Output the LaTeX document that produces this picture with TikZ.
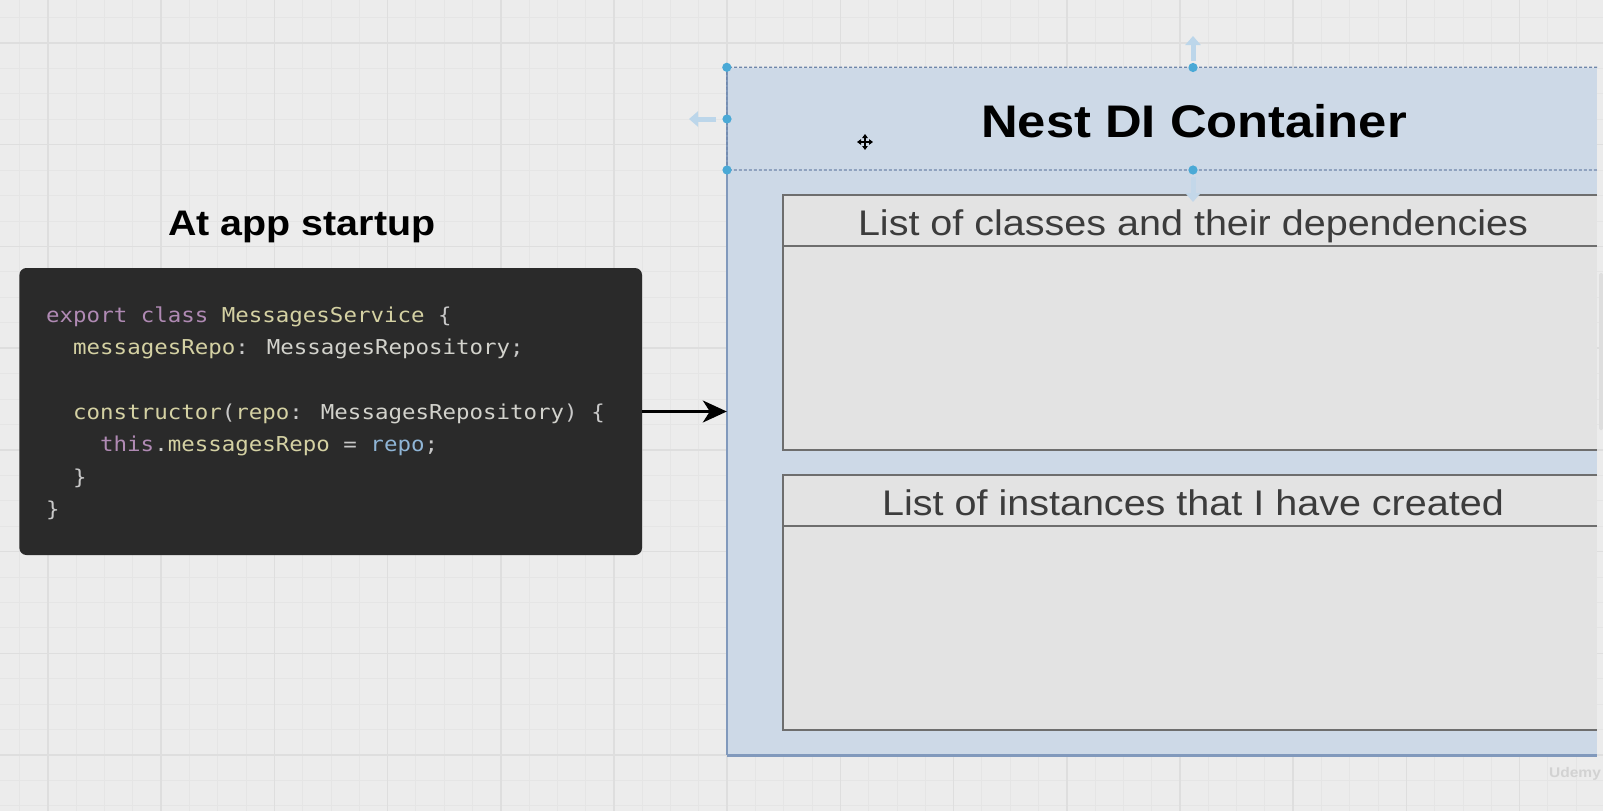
\documentclass[tikz,border=0pt]{standalone}
\usepackage{fontspec}
\setmainfont{Liberation Sans}
\newfontfamily\sansfont[FakeStretch=1.11]{Liberation Sans}
\newfontfamily\codefont[FakeStretch=1.095]{DejaVu Sans Mono}
\usetikzlibrary{arrows.meta}
\definecolor{bg}{HTML}{ECECEC}
\definecolor{gridminor}{HTML}{E5E5E5}
\definecolor{gridmajor}{HTML}{DEDEDE}
\definecolor{contblue}{HTML}{CDD9E7}
\definecolor{contline}{HTML}{8199BC}
\definecolor{selline}{HTML}{6F86AA}
\definecolor{handle}{HTML}{4AA9D6}
\definecolor{ghost}{HTML}{BCD6EA}
\definecolor{boxgray}{HTML}{E3E3E3}
\definecolor{boxline}{HTML}{6E6E6E}
\definecolor{headtext}{HTML}{3C3C3C}
\definecolor{codebg}{HTML}{2A2A2A}
\definecolor{ckw}{HTML}{B08AB4}
\definecolor{cid}{HTML}{D4D1A3}
\definecolor{cty}{HTML}{D2D2CC}
\definecolor{cpu}{HTML}{C8C8C8}
\definecolor{cbl}{HTML}{8FB5D6}
\definecolor{wm}{HTML}{D2D2D2}
\newcommand{\kw}[1]{\textcolor{ckw}{#1}}
\newcommand{\idn}[1]{\textcolor{cid}{#1}}
\newcommand{\typ}[1]{\textcolor{cty}{#1}}
\newcommand{\pun}[1]{\textcolor{cpu}{#1}}
\newcommand{\blu}[1]{\textcolor{cbl}{#1}}
\tikzset{
  minorgrid/.style={draw=gridminor, line width=1pt},
  majorgrid/.style={draw=gridmajor, line width=1.5pt},
  codebox/.style={fill=codebg, rounded corners=7pt, minimum width=622.6pt, minimum height=287pt, inner sep=0pt},
  codeline/.style={anchor=base west, inner sep=0pt, font=\codefont\fontsize{20.5}{24}\selectfont},
  contbox/.style={fill=contblue, minimum width=870pt, minimum height=687.5pt, inner sep=0pt},
  contborder/.style={draw=contline, line width=1.6pt},
  contbottom/.style={draw=contline, line width=3pt},
  selection/.style={draw=selline, line width=1.2pt, dash pattern=on 3pt off 2pt},
  handledot/.style={fill=handle},
  ghostarrow/.style={draw=ghost, line width=5pt, -{Triangle[length=9pt,width=15pt]}},
  listbox/.style={fill=boxgray, minimum width=814pt, minimum height=255pt, inner sep=0pt},
  listline/.style={draw=boxline, line width=2.5pt},
  listhead/.style={anchor=base, inner sep=0pt, text=headtext, font=\sansfont\fontsize{35.6}{40}\selectfont},
  titletext/.style={anchor=base, inner sep=0pt, text=black, font=\sansfont\bfseries\fontsize{35.5}{40}\selectfont},
  bigtitle/.style={anchor=base, inner sep=0pt, text=black, font=\sansfont\bfseries\fontsize{45.7}{50}\selectfont},
  connector/.style={draw=black, line width=2.2pt, -{Stealth[length=24pt,width=22pt,inset=7pt]}},
  cursorarrow/.style={draw=black, line width=1.4pt, {Triangle[length=4pt,width=5.5pt]}-{Triangle[length=4pt,width=5.5pt]}}
}
\begin{document}
\begin{tikzpicture}[x=1pt,y=-1pt]
\useasboundingbox (0,0) rectangle (1603,811);
\fill[bg] (0,0) rectangle (1603,811);
% grid
\foreach \k in {-1,...,54} \draw[minorgrid] ({48+\k*28.3},0) -- ({48+\k*28.3},811);
\foreach \k in {-1,...,30} \draw[minorgrid] (0,{43+\k*25.43}) -- (1603,{43+\k*25.43});
\foreach \j in {0,...,13} \draw[majorgrid] ({48+\j*113.2},0) -- ({48+\j*113.2},811);
\foreach \j in {0,...,7} \draw[majorgrid] (0,{43+\j*101.72}) -- (1603,{43+\j*101.72});
% scrollbar strip at right edge
\fill[gridmajor, rounded corners=1.5pt] (1599,273) rectangle (1603,430);

% left side
\node[titletext] (startup) at (302,235) {At app startup};
\node[codebox] (code) at (330.7,411.5) {};
\node[codeline] (l1) at (46,322) {\kw{export} \kw{class} \idn{MessagesService} \pun{\{}};
\node[codeline] (l2) at (73,354.5) {\idn{messagesRepo}\pun{:} \typ{MessagesRepository}\pun{;}};
\node[codeline] (l4) at (73,419) {\idn{constructor}\pun{(}\idn{repo}\pun{:} \typ{MessagesRepository}\pun{)} \pun{\{}};
\node[codeline] (l5) at (100,451.5) {\kw{this}\pun{.}\idn{messagesRepo} \pun{=} \blu{repo}\pun{;}};
\node[codeline] (l6) at (73,484) {\pun{\}}};
\node[codeline] (l7) at (46,516) {\pun{\}}};

% container
\node[contbox] (cont) at (1162,411.25) {};
\draw[contborder] (cont.north west) -- (cont.south west);
\draw[contbottom] (cont.south west) -- (cont.south east);

% list boxes
\node[listbox] (classes) at (1190,322.5) {};
\coordinate (cdiv) at (783,246);
\draw[listline] (classes.north east) -- (classes.north west) -- (classes.south west) -- (classes.south east);
\draw[listline] (cdiv) -- (cdiv -| classes.east);
\node[listhead] (classestitle) at (1193,235) {List of classes and their dependencies};

\node[listbox] (instances) at (1190,602.5) {};
\coordinate (idiv) at (783,526);
\draw[listline] (instances.north east) -- (instances.north west) -- (instances.south west) -- (instances.south east);
\draw[listline] (idiv) -- (idiv -| instances.east);
\node[listhead] (instancestitle) at (1193,515) {List of instances that I have created};

% header with selection
\node[bigtitle] (nest) at (1194,137) {Nest DI Container};
\coordinate (hdl) at (727,170);
\coordinate (hdr) at (1597,170);
\draw[selection] (cont.north east) -- (cont.north west) -- (hdl) -- (hdr);
\fill[handledot] (cont.north west) circle (4.6);
\fill[handledot] (1193,67.5) circle (4.6);
\fill[handledot] (727,119) circle (4.6);
\fill[handledot] (hdl) circle (4.6);
\fill[handledot] (1193,170) circle (4.6);
\draw[ghostarrow] (1193,61) -- (1193,36);
\draw[ghostarrow] (716,119) -- (689,119);
\draw[ghostarrow, draw=ghost!60!contblue] (1193,177) -- (1193,202);

% move cursor
\draw[cursorarrow] (857,142) -- (873,142);
\draw[cursorarrow] (865,134) -- (865,150);

% connector
\draw[connector] (code.east) -- (cont.west |- code.east);

% watermark
\node[anchor=base, inner sep=0pt, text=wm, font=\sansfont\bfseries\fontsize{14}{16}\selectfont] (udemy) at (1575,777) {Udemy};
\end{tikzpicture}
\end{document}
